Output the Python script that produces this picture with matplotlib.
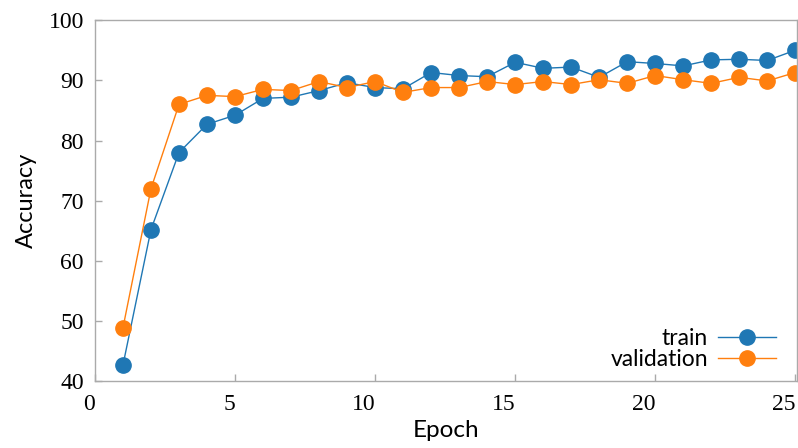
import matplotlib.pyplot as plt

epochs = list(range(1, 26))
train_acc = [42.7, 65.2, 78.0, 82.7, 84.2, 87.0, 87.2, 88.3, 89.6, 88.8,
             88.6, 91.3, 90.8, 90.6, 93.0, 92.0, 92.2, 90.5, 93.1, 92.8,
             92.4, 93.4, 93.5, 93.3, 95.0]
val_acc = [48.9, 72.0, 86.0, 87.5, 87.3, 88.5, 88.3, 89.8, 88.8, 89.8,
           88.0, 88.8, 88.8, 89.8, 89.3, 89.8, 89.3, 90.1, 89.5, 90.8,
           90.1, 89.5, 90.5, 89.9, 91.3]

label_font = ['Lato', 'DejaVu Sans']
tick_font = 'Liberation Serif'

fig, ax = plt.subplots(figsize=(7.98, 4.48), dpi=100)
fig.subplots_adjust(left=0.119, right=0.999, top=0.955, bottom=0.149)

ax.plot(epochs, train_acc, color='#1f77b4', marker='o', markersize=11,
        linewidth=1.0, label='train')
ax.plot(epochs, val_acc, color='#ff7f0e', marker='o', markersize=11,
        linewidth=1.0, label='validation')

ax.set_xlim(0, 25.07)
ax.set_ylim(40, 100)
ax.set_xticks([0, 5, 10, 15, 20, 25])
ax.set_yticks([40, 50, 60, 70, 80, 90, 100])

for side in ax.spines.values():
    side.set_color('#aaaaaa')
    side.set_linewidth(1.0)
ax.tick_params(direction='in', length=5, color='#aaaaaa', width=1,
               labelsize=17)
ax.tick_params(axis='x', pad=9)
ax.tick_params(axis='y', pad=8)
for lbl in ax.get_xticklabels():
    lbl.set_family(tick_font)
    lbl.set_horizontalalignment('right')
for lbl in ax.get_yticklabels():
    lbl.set_family(tick_font)

ax.set_xlabel('Epoch', fontsize=17.5, family=label_font, labelpad=4)
ax.set_ylabel('Accuracy', fontsize=17, family=label_font, labelpad=8)

ax.legend(loc='lower right', frameon=False, markerfirst=False,
          prop={'family': label_font, 'size': 16.5}, handlelength=2.5,
          labelspacing=0.0, handletextpad=0.45, borderaxespad=0.08,
          bbox_to_anchor=(0.985, 0.0))

fig.savefig('out.png', dpi=100)
